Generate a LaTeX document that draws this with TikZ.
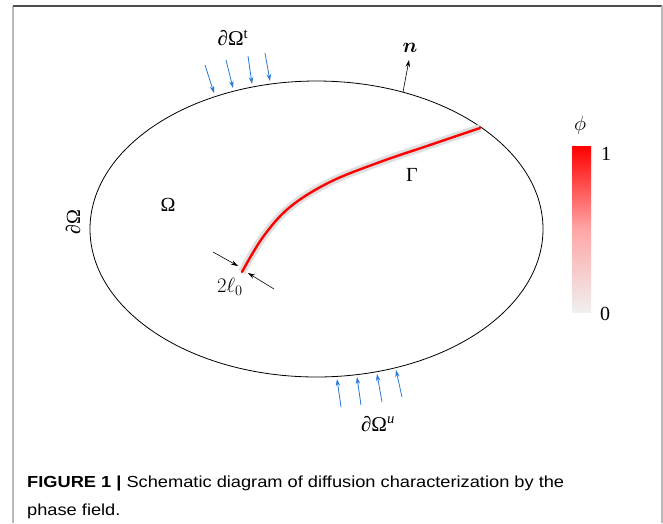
\documentclass[tikz,border=0pt]{standalone}
\usepackage{amsmath}
\usepackage{amssymb}
\usepackage{bm}
\usepackage{fontspec}
\newfontfamily\capfont[FakeStretch=1.14]{Liberation Sans}
\newfontfamily\numfont{Liberation Serif}
\usetikzlibrary{arrows.meta}

\begin{document}
\begin{tikzpicture}[x=1pt,y=-1pt,
  load/.style={-{Stealth[length=7pt,width=4.5pt]}, draw={rgb,255:red,40;green,120;blue,215}, line width=0.8pt},
  dim/.style={-{Stealth[length=7pt,width=4.5pt]}, line width=0.6pt},
  lbl/.style={font=\numfont\fontsize{20}{24}\selectfont, inner sep=0pt},
  captext/.style={anchor=base west, inner sep=0pt, font=\capfont\fontsize{16}{20}\selectfont}]
\useasboundingbox (0,0) rectangle (663,523);

% frame
\draw[gray!55, line width=1.3pt] (13,523) -- (13,6);
\draw[black!70, line width=1.3pt] (13,6) -- (662,6);
\draw[gray!55, line width=1.3pt] (662,6) -- (662,523);

% domain
\draw[line width=0.8pt] (316.5,229) ellipse [x radius=226.5pt, y radius=148pt];

% crack with diffuse band
\draw[red, line width=2.4pt, line cap=round,
      preaction={draw=gray!25, line width=8pt}]
  plot[smooth, tension=0.6] coordinates {(242,272) (263,237) (290,207) (330,182) (380,162) (430,145) (480,128)};

% labels
\node[lbl] (dom) at (168,205) {Ω};
\node[lbl, rotate=90] (bnd) at (73,222) {∂Ω};
\node[lbl] (crk) at (412,175) {Γ};
\node[lbl, font=\numfont\fontsize{21}{24}\selectfont] (top) at (233,38) {∂Ω\textsuperscript{t}};
\node[lbl, font=\numfont\fontsize{21}{24}\selectfont] (bot) at (378,424) {∂Ω\textsuperscript{\itshape u}};
\node[lbl, font=\fontsize{22}{24}\selectfont] (wid) at (230,287) {$2\ell_0$};
\node[lbl, font=\fontsize{22}{24}\selectfont] (nrm) at (410,48) {$\bm{n}$};

% traction and displacement boundaries
\foreach \xa/\ya/\xb/\yb in {205/65/214/93, 226/60/233/88, 248/56/252/84, 265/53/270/81}
  \draw[load] (\xa,\ya) -- (\xb,\yb);
\foreach \xa/\ya/\xb/\yb in {341/407/337/379, 361/405/357/377, 382/402/377/374, 402/397/396/370}
  \draw[load] (\xa,\ya) -- (\xb,\yb);

% normal
\draw[dim] (403,92) -- (409,60);

% band width
\draw[dim] (213,252) -- (238,266);
\draw[dim] (274,289) -- (248,273);

% colour bar
\shade[top color=red, bottom color=gray!12, middle color=red!35] (572,146) rectangle (591,312);
\node[lbl, font=\fontsize{21}{24}\selectfont] (phi) at (580,125) {$\phi$};
\node[lbl] (one) at (606,154) {1};
\node[lbl] (zero) at (605,314) {0};

% caption
\node[captext] (cap1) at (27,487) {\textbf{FIGURE 1 |} Schematic diagram of diffusion characterization by the};
\node[captext] (cap2) at (27,515) {phase field.};
\end{tikzpicture}
\end{document}
